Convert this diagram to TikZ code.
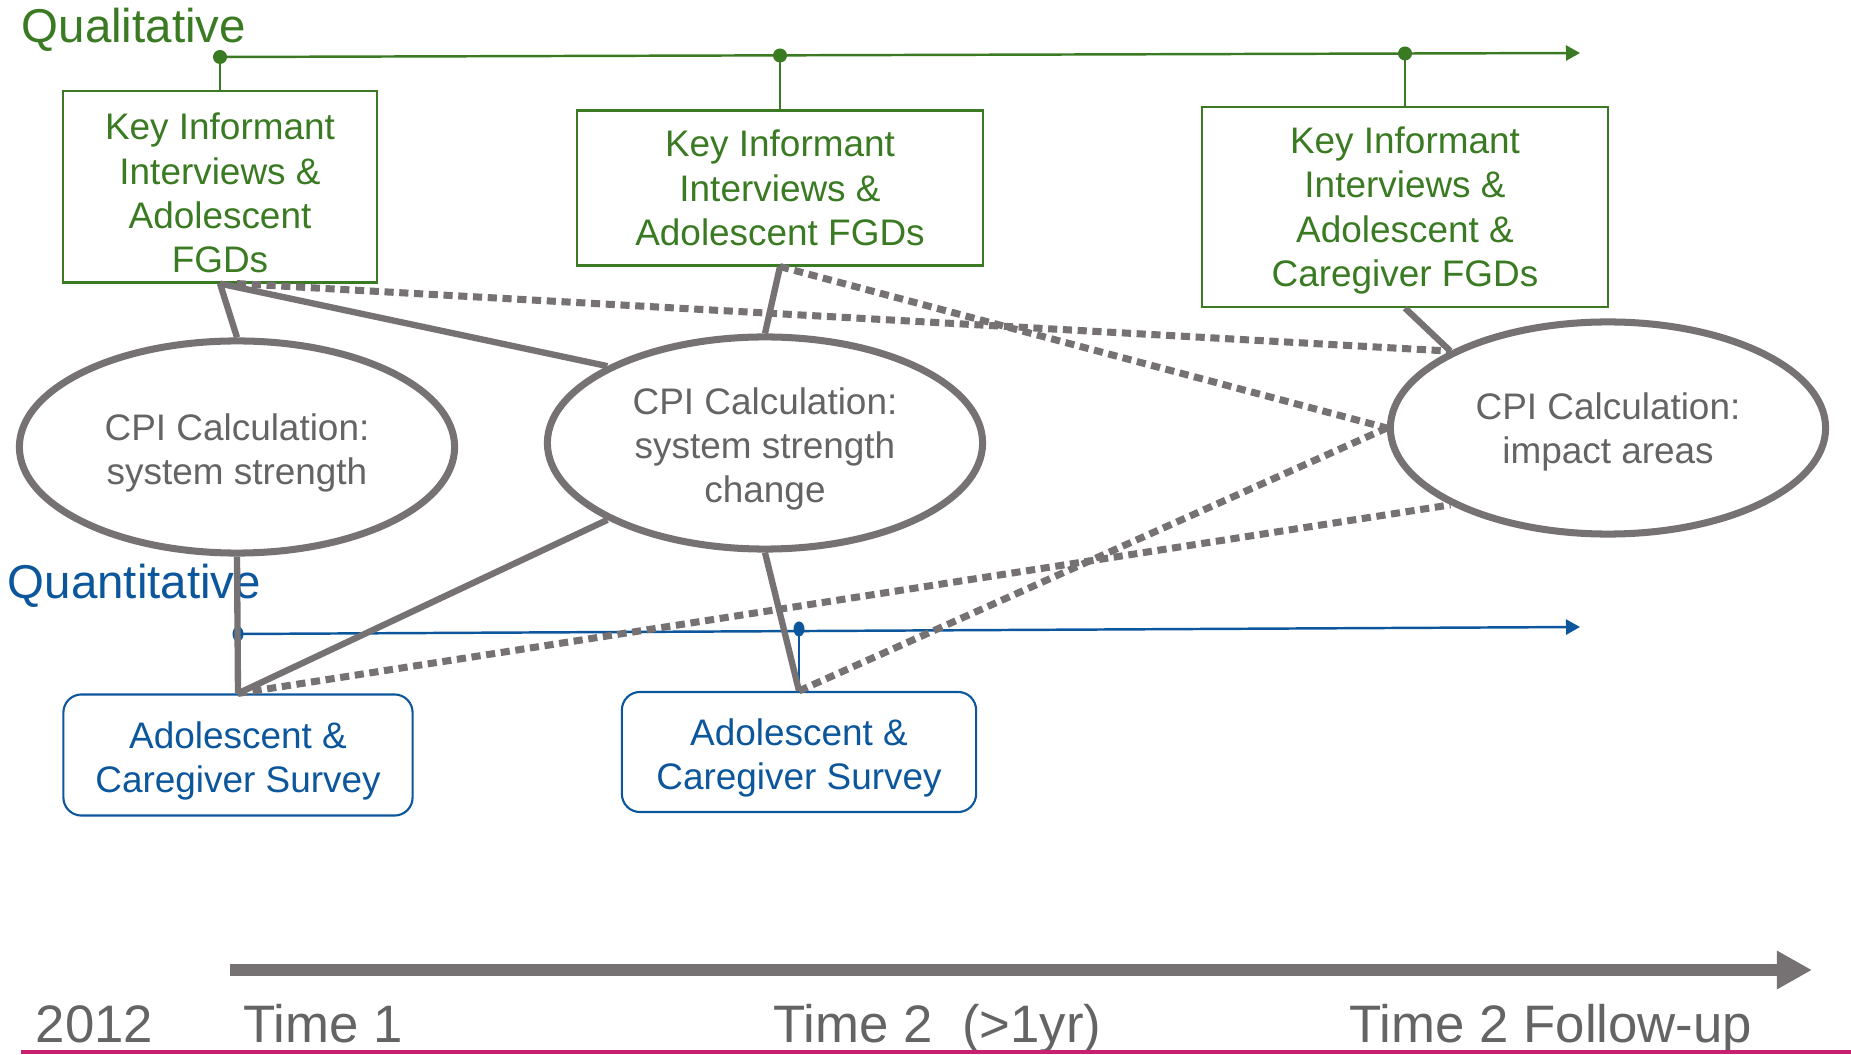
\documentclass[tikz,border=0pt]{standalone}
\usepackage{fontspec}
\setmainfont{Liberation Sans}
\usetikzlibrary{shapes.geometric,arrows.meta}
\definecolor{qualgreen}{RGB}{58,122,34}
\definecolor{quantblue}{RGB}{12,86,156}
\definecolor{linkgray}{RGB}{118,114,116}
\definecolor{textgray}{RGB}{100,100,100}
\definecolor{rulepink}{RGB}{200,32,110}
\newcommand{\topgap}[1][11pt]{\rule{0pt}{#1}}
\tikzset{
  qualbox/.style={draw=qualgreen, line width=0.6pt, text=qualgreen, align=center,
    font=\fontsize{10.5}{12.6}\selectfont, inner sep=0pt},
  quantbox/.style={draw=quantblue, line width=0.6pt, rounded corners=0.18cm, text=quantblue,
    align=center, font=\fontsize{10.5}{12.6}\selectfont, inner sep=0pt},
  cpi/.style={ellipse, draw=linkgray, line width=2pt, fill=white, text=textgray, align=center,
    font=\fontsize{10.5}{12.6}\selectfont, inner sep=0pt, minimum width=4.35cm, minimum height=2.12cm},
  link/.style={draw=linkgray, line width=1.8pt},
  dotlink/.style={draw=linkgray, line width=2pt, dash pattern=on 2.6pt off 1.6pt},
  header/.style={anchor=base west, inner sep=0pt, font=\fontsize{13.5}{16}\selectfont},
  timelabel/.style={anchor=base west, inner sep=0pt, text=textgray, font=\fontsize{15}{18}\selectfont}
}
\begin{document}
\begin{tikzpicture}[x=0.01cm, y=-0.01cm]
    \useasboundingbox (0,0) rectangle (1851,1055);

    \node[header, text=qualgreen] (qualtitle) at (21,43) {Qualitative};
    \node[header, text=quantblue] (quanttitle) at (7,599) {Quantitative};

    % qualitative strand
    \coordinate (q1) at (220,57);
    \coordinate (q2) at (780,55.5);
    \coordinate (q3) at (1405,53.5);
    \coordinate (qend) at (1580,53);
    \draw[qualgreen, line width=0.7pt, -{Triangle[length=0.14cm,width=0.15cm]}] (q1) -- (qend);
    \node[qualbox, minimum width=3.13cm, minimum height=1.91cm] (kii1) at (220,187) {\topgap Key Informant\\Interviews \&\\Adolescent\\FGDs};
    \node[qualbox, minimum width=4.05cm, minimum height=1.55cm] (kii2) at (780,188) {Key Informant\\Interviews \&\\Adolescent FGDs};
    \node[qualbox, minimum width=4.05cm, minimum height=2.00cm] (kii3) at (1405,207) {\topgap[9.5pt]Key Informant\\Interviews \&\\Adolescent \&\\Caregiver FGDs};
    \draw[qualgreen, line width=0.6pt] (q1) -- (kii1.north);
    \draw[qualgreen, line width=0.6pt] (q2) -- (kii2.north);
    \draw[qualgreen, line width=0.6pt] (q3) -- (kii3.north);
    \fill[qualgreen] (q1) circle (0.07cm);
    \fill[qualgreen] (q2) circle (0.07cm);
    \fill[qualgreen] (q3) circle (0.07cm);

    % quantitative strand
    \coordinate (n1) at (238,634);
    \coordinate (n2) at (799,629);
    \coordinate (nend) at (1580,627);
    \draw[quantblue, line width=0.7pt, -{Triangle[length=0.14cm,width=0.15cm]}] (n1) -- (nend);
    \node[quantbox, minimum width=3.49cm, minimum height=1.21cm] (surv1) at (238,755) {\topgap Adolescent \&\\Caregiver Survey};
    \node[quantbox, minimum width=3.54cm, minimum height=1.20cm] (surv2) at (799,752) {\topgap Adolescent \&\\Caregiver Survey};
    \draw[quantblue, line width=0.6pt] (n2) -- (surv2.north);
    \fill[quantblue] (n1) ellipse [x radius=0.055cm, y radius=0.075cm];
    \fill[quantblue] (n2) ellipse [x radius=0.055cm, y radius=0.075cm];

    % CPI calculations
    \node[cpi] (cpi1) at (237,447) {\topgap CPI Calculation:\\system strength};
    \node[cpi] (cpi2) at (765,443) {\topgap CPI Calculation:\\system strength\\change};
    \node[cpi] (cpi3) at (1608,428) {\topgap[10pt]CPI Calculation:\\impact areas};

    \draw[link] (kii1.south) -- (cpi1.north);
    \draw[link] (kii1.south) -- (cpi2.154);
    \draw[link] (kii2.south) -- (cpi2.north);
    \draw[link] (kii3.south) -- (cpi3.154);
    \draw[link] (cpi1.south) -- (surv1.north);
    \draw[link] (cpi2.206) -- (surv1.north);
    \draw[link] (cpi2.south) -- (surv2.north);

    \draw[dotlink] (kii1.-80) -- (cpi3.154);
    \draw[dotlink] (kii2.south) -- (cpi3.west);
    \draw[dotlink] (surv1.north) -- (cpi3.206);
    \draw[dotlink] (surv2.north) -- (cpi3.west);

    % time axis
    \coordinate (tstart) at (230,970);
    \coordinate (tend) at (1812,970);
    \draw[linkgray, line width=3.4pt, -{Triangle[length=0.35cm,width=0.36cm]}] (tstart) -- (tend);
    \node[timelabel] (y2012) at (35,1042) {2012};
    \node[timelabel] (time1) at (243,1042) {Time 1};
    \node[timelabel] (time2) at (773,1042) {Time 2\ \ (>1yr)};
    \node[timelabel] (time3) at (1349,1042) {Time 2 Follow-up};
    \draw[rulepink, line width=0.9pt] (21,1052) -- (1851,1052);
\end{tikzpicture}
\end{document}
